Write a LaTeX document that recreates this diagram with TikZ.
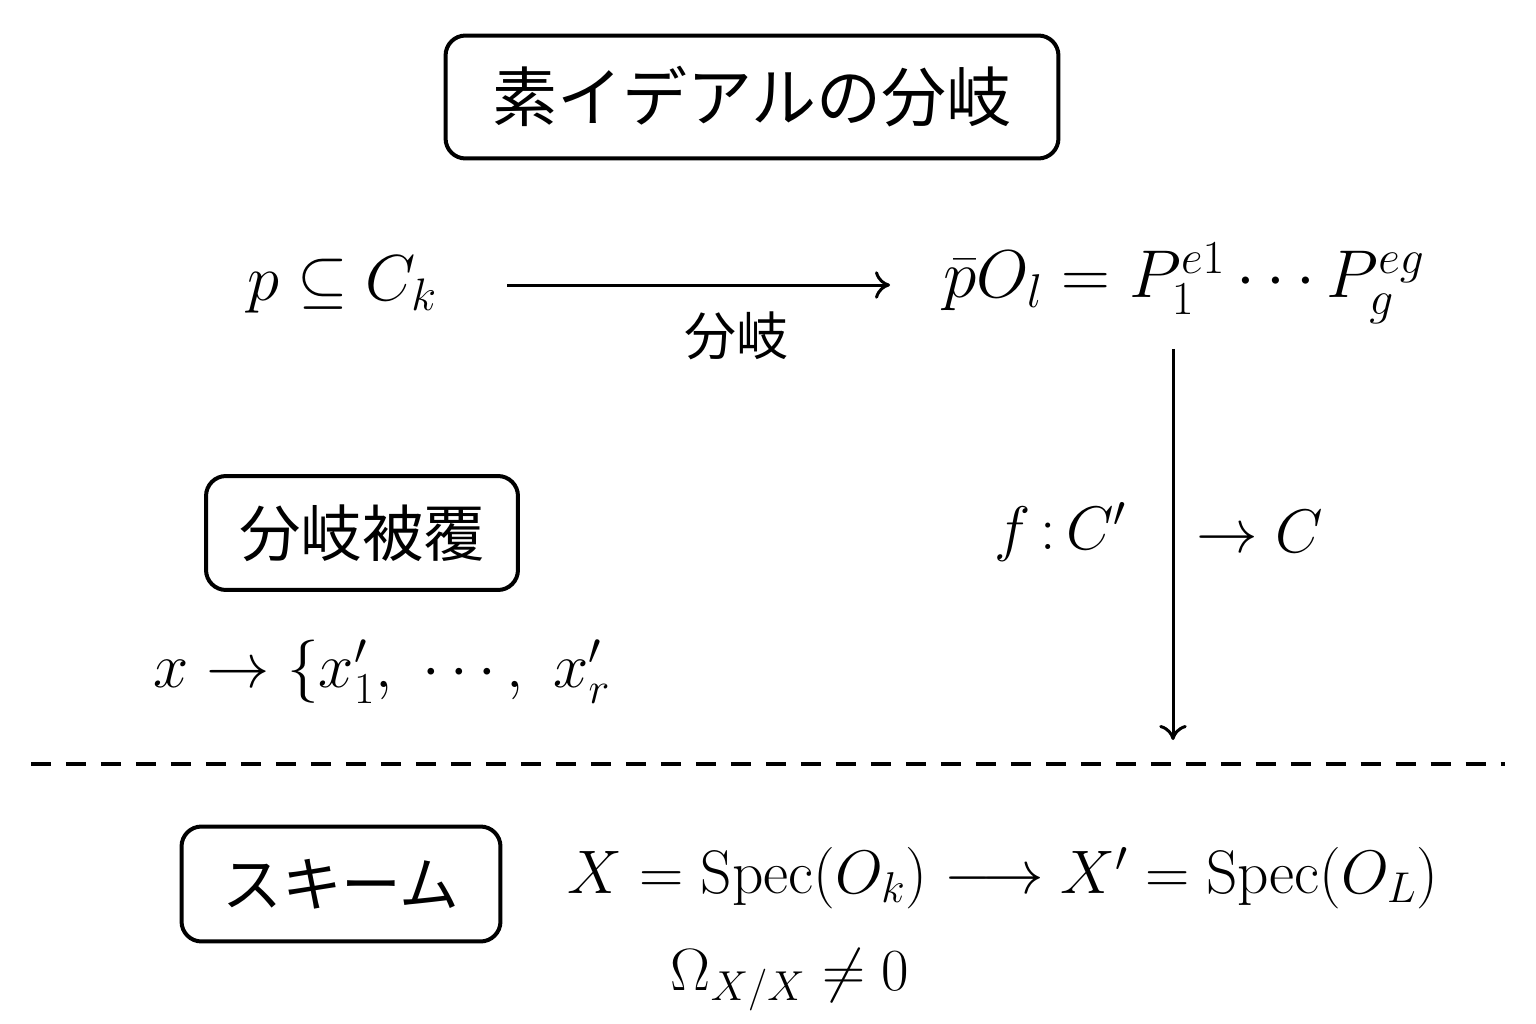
\RequirePackage{fix-cm}
\documentclass[tikz,border=0pt]{standalone}
\usepackage{fontspec}
\newfontfamily\jp{Noto Sans CJK JP}
\usetikzlibrary{positioning, arrows.meta}

\tikzset{
  headbox/.style={draw, line width=0.08cm, rounded corners=0.4cm, inner sep=0pt},
  mathtext/.style={inner sep=0pt, font=\fontsize{#1}{40}\selectfont},
  mathtext/.default=35,
  arr/.style={-{To[length=0.3cm, width=0.55cm]}, line width=0.06cm},
}

\begin{document}
\begin{tikzpicture}[x=0.02cm, y=-0.02cm]
  \useasboundingbox (0,0) rectangle (1536,1024);
  % Boxes
  \node[headbox, minimum width=12.26cm, minimum height=2.46cm, font=\jp\fontsize{37}{40}\selectfont] (title) at (752,97) {素イデアルの分岐};
  \node[headbox, minimum width=6.24cm, minimum height=2.28cm, font=\jp\fontsize{35}{40}\selectfont] (cover) at (362,533) {分岐被覆};
  \node[headbox, minimum width=6.38cm, minimum height=2.30cm, font=\jp\fontsize{34}{40}\selectfont] (scheme) at (341,884) {スキーム};
  % Nodes
  \node[mathtext=37] (pC) at (342,285) {$p \subseteq C_k$};
  \node[mathtext=38.5] (PO) at (1184,283) {$\bar{p}O_l = P_1^{e1} \cdots P_g^{eg}$};
  \node[mathtext=36] (xr) at (382,672) {$x \to \{x'_1,\ \cdots,\ x'_r$};
  \node[mathtext=35] (spec) at (1003,878) {$X = \mathrm{Spec}(O_k) \longrightarrow X' = \mathrm{Spec}(O_L)$};
  \node[mathtext=34] (omega) at (790,980) {$\Omega_{X/X} \neq 0$};
  \coordinate (right) at (890,285);
  \coordinate (down) at (1173,740);
  \coordinate (dashL) at (31,764);
  \coordinate (dashR) at (1505,764);
  % Edges
  \draw[arr, shorten <=1.4cm] (pC.east) -- (right)
    node[pos=0.66, below=0.5cm, inner sep=0pt, font=\jp\fontsize{29.6}{32}\selectfont] {分岐};
  \draw[arr, shorten <=0.5cm] (PO.south -| down) -- (down)
    node[midway, left=0.9cm, mathtext] {$f\,{:}\,C'$}
    node[midway, right=0.44cm, mathtext] {$\to C$};
  \draw[line width=0.08cm, dash pattern=on 0.4cm off 0.3cm] (dashL) -- (dashR);
\end{tikzpicture}
\end{document}
